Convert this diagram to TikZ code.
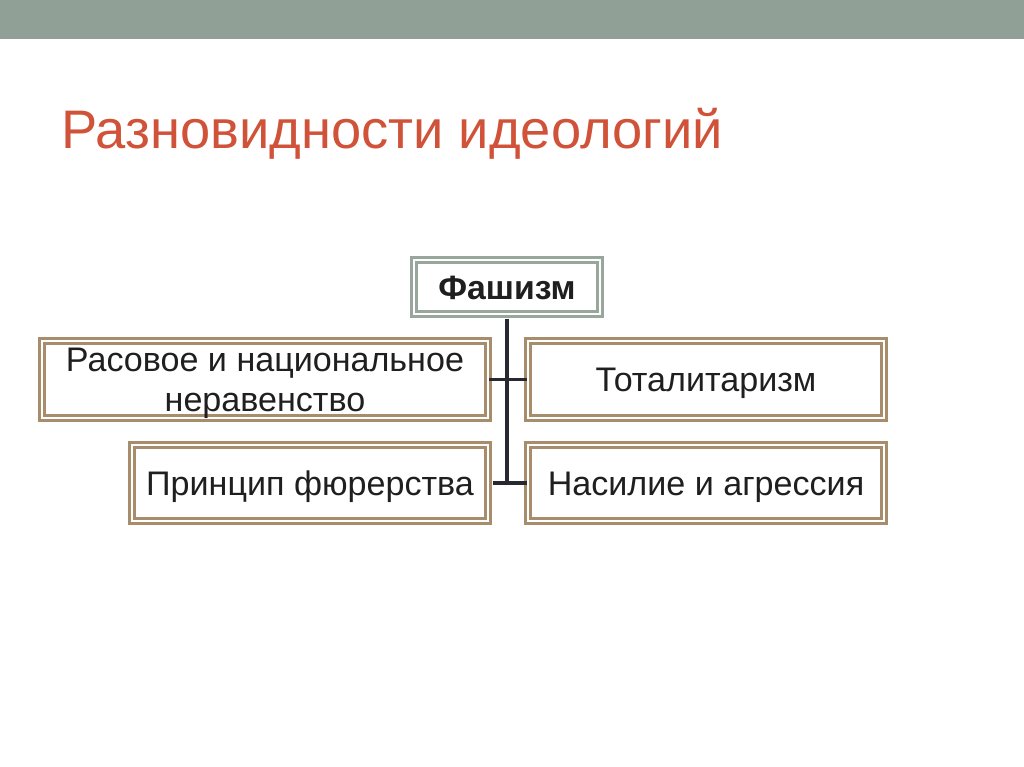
\documentclass[tikz,border=0pt]{standalone}
\usepackage{fontspec}
\setmainfont{Liberation Sans}
\usepackage{xcolor}
\usetikzlibrary{positioning}

\definecolor{bandgray}{RGB}{145,160,150}
\definecolor{titlered}{RGB}{208,82,56}
\definecolor{tanline}{RGB}{168,141,108}
\definecolor{sageline}{RGB}{152,166,156}
\definecolor{stemline}{RGB}{40,40,48}

\begin{document}
\begin{tikzpicture}[
    frame/.style={rectangle, draw=tanline, double=white, line width=1.4pt, double distance=1.7pt, fill=white, text=black!88, font=\fontsize{19.4}{22.7}\selectfont, align=center, inner sep=0pt, text height=13.9pt, text depth=0pt},
    topframe/.style={frame, draw=sageline, font=\fontsize{19.2}{22.7}\selectfont\bfseries},
    stem/.style={draw=stemline, line width=2pt}
  ]
    \useasboundingbox (0,0) rectangle (20.48,-15.34);
    % Header
    \fill[bandgray] (0,0) rectangle (20.48,-0.78);
    \node (title) [anchor=base west, inner sep=0pt, text=titlered, font=\fontsize{30.9}{36}\selectfont] at (1.22,-2.97) {Разновидности идеологий};

    % Nodes
    \node (fash) [topframe, minimum width=3.72cm, minimum height=1.08cm] at (10.14,-5.74) {Фашизм};
    \node (race) [frame, text height=36.6pt, minimum width=8.92cm, minimum height=1.54cm] at (5.30,-7.59) {Расовое и национальное\\неравенство};
    \node (total) [frame, minimum width=7.12cm, minimum height=1.54cm] at (14.12,-7.59) {Тоталитаризм};
    \node (fuhrer) [frame, minimum width=7.12cm, minimum height=1.52cm] at (6.20,-9.66) {Принцип фюрерства};
    \node (viol) [frame, minimum width=7.12cm, minimum height=1.52cm] at (14.12,-9.66) {Насилие и агрессия};

    % Links
    \coordinate (trunk) at (fash.south |- fuhrer.east);
    \draw[stem] ([yshift=-2pt]fash.south) -- (trunk);
    \draw[stem] (race.east) -- (total.west);
    \draw[stem] ([xshift=2pt]fuhrer.east) -- (viol.west);
\end{tikzpicture}
\end{document}
